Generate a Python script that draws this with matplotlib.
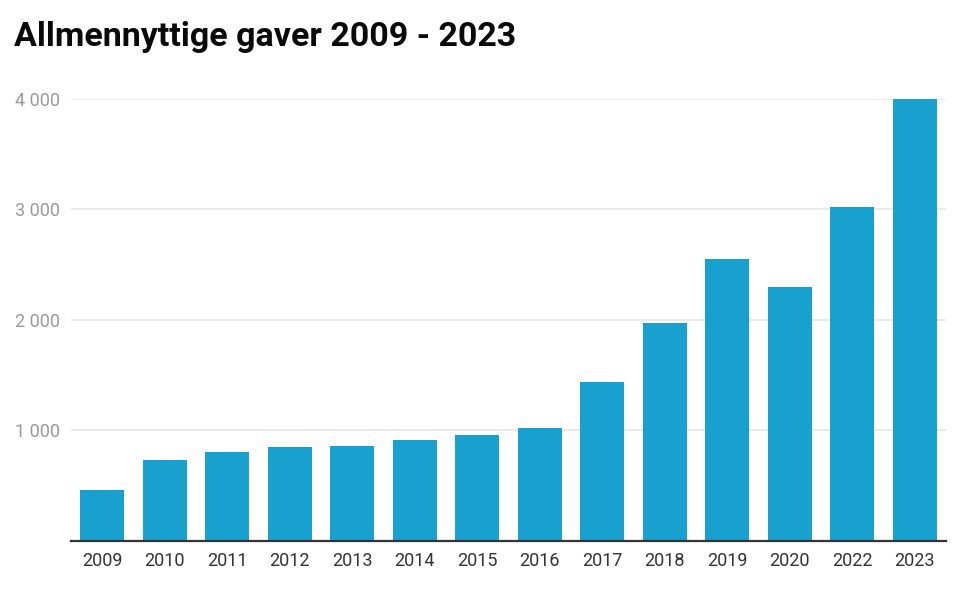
import numpy as np
import matplotlib.pyplot as plt
from matplotlib.ticker import FuncFormatter

years = ["2009", "2010", "2011", "2012", "2013", "2014", "2015",
         "2016", "2017", "2018", "2019", "2020", "2022", "2023"]
gaver = [460, 735, 805, 850, 860, 914, 960,
         1022, 1440, 1973, 2552, 2300, 3023, 4000]
yticks = [1000, 2000, 3000, 4000]

plt.rcParams['font.family'] = ['Roboto', 'DejaVu Sans']

fig = plt.figure(figsize=(9.6, 5.96), dpi=100)
ax = fig.add_axes([0.074, 0.0923, 0.9114, 0.7416])

x = np.arange(len(years))
ax.bar(x, gaver, width=0.7, color='#18a0ce', zorder=3)

ax.set_xlim(-0.5, len(years) - 0.5)
ax.set_ylim(0, 4000)
ax.set_xticks(x)
ax.set_xticklabels(years)
ax.set_yticks(yticks)
ax.yaxis.set_major_formatter(FuncFormatter(lambda v, p: f"{int(v):,}".replace(",", " ")))

ax.grid(axis='y', color='#e6e6e6', linewidth=1.2, zorder=0)
for s in ['top', 'right', 'left']:
    ax.spines[s].set_visible(False)
ax.spines['bottom'].set_color('#333333')
ax.spines['bottom'].set_linewidth(1.6)
ax.spines['bottom'].set_zorder(4)

ax.tick_params(axis='x', length=0, pad=8, labelsize=13, labelcolor='#333333')
ax.tick_params(axis='y', length=0, pad=8, labelsize=13, labelcolor='#9a9a9a')

fig.text(0.015, 0.938, "Allmennyttige gaver 2009 - 2023", fontsize=24.5,
         fontweight='bold', color='#0a0a0a', va='center', ha='left')

fig.savefig("out.png", dpi=100, facecolor='white')
